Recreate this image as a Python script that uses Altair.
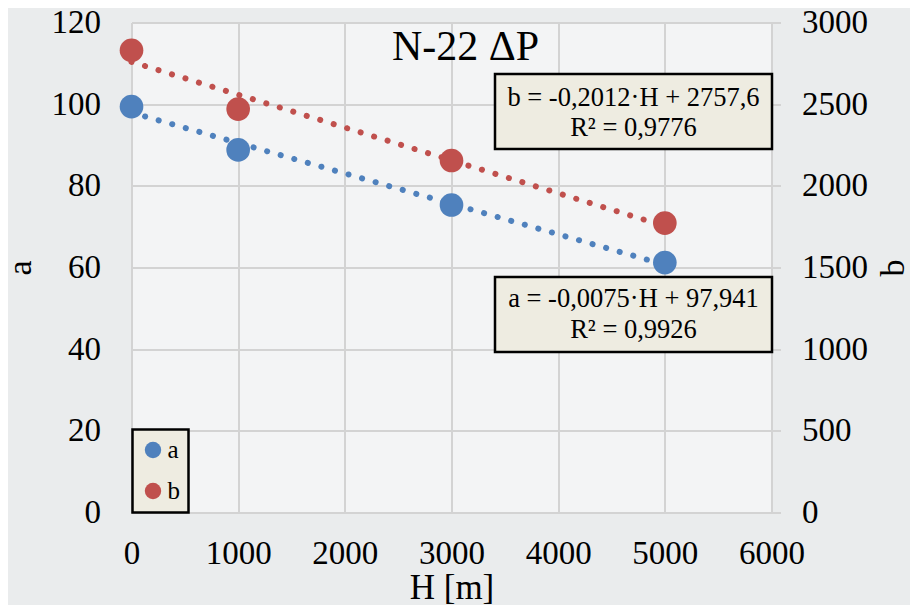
import altair as alt
import pandas as pd

# ---- data ----
H_vals = [0, 1000, 3000, 5000]
a_vals = [99.4, 88.8, 75.3, 61.2]
b_vals = [2830, 2470, 2155, 1772]
series_names = ["a", "b"]
series_colors = ["#4f81bd", "#c0504d"]
x_ticks = [0, 1000, 2000, 3000, 4000, 5000, 6000]
a_ticks = [0, 20, 40, 60, 80, 100, 120]
b_ticks = [0, 500, 1000, 1500, 2000, 2500, 3000]
title_text = ["N-22 \u0394P"]
eq_b = ["b = -0,2012\u00b7H + 2757,6", "R\u00b2 = 0,9776"]
eq_a = ["a = -0,0075\u00b7H + 97,941", "R\u00b2 = 0,9926"]

df = pd.DataFrame({"H": H_vals, "a": a_vals, "b": b_vals})

FONT = "Liberation Serif"
GRID = "#d3d3d3"
BOX_FILL = "#eeece1"

x_enc = alt.X(
    "H:Q",
    title="H [m]",
    scale=alt.Scale(domain=[0, 6000], nice=False),
    axis=alt.Axis(
        values=x_ticks, format="d", grid=True, gridColor=GRID, gridWidth=2,
        domainColor=GRID, domainWidth=2, ticks=False, tickSize=0,
        labelFont=FONT, labelFontSize=33, labelColor="black", labelPadding=25,
        titleFont=FONT, titleFontSize=35, titleFontWeight="normal",
        titleColor="black", titlePadding=0, labelFlush=False,
    ),
)


def y_a(field):
    return alt.Y(
        field,
        title="a",
        scale=alt.Scale(domain=[0, 120], nice=False),
        axis=alt.Axis(
            orient="left", values=a_ticks, format="d", grid=True, gridColor=GRID, gridWidth=2,
            domainColor=GRID, domainWidth=2, ticks=False, tickSize=0,
            labelFont=FONT, labelFontSize=33, labelColor="black", labelPadding=31,
            titleFont=FONT, titleFontSize=34, titleFontWeight="normal",
            titleColor="black", titlePadding=14, titleAngle=270,
        ),
    )


def y_b(field):
    return alt.Y(
        field,
        title="b",
        scale=alt.Scale(domain=[0, 3000], nice=False),
        axis=alt.Axis(
            orient="right", values=b_ticks, format="d", grid=False,
            domainColor=GRID, domainWidth=2, tickColor=GRID, tickWidth=2, tickSize=9,
            labelFont=FONT, labelFontSize=33, labelColor="black", labelPadding=21,
            titleFont=FONT, titleFontSize=34, titleFontWeight="normal",
            titleColor="black", titlePadding=9, titleAngle=270, titleBaseline="top",
        ),
    )


color_enc = alt.Color(
    "series:N",
    scale=alt.Scale(domain=series_names, range=series_colors),
    legend=alt.Legend(
        title=None, orient="none", legendX=1, legendY=407,
        symbolType="circle", symbolSize=270, symbolStrokeWidth=0,
        labelFont=FONT, labelFontSize=25, labelColor="black", labelOffset=2,
        padding=8, rowPadding=15, fillColor=BOX_FILL, strokeColor="black",
    ),
)

base = alt.Chart(df)

line_style = dict(strokeDash=[0.1, 14], strokeCap="round", strokeWidth=6)

a_line = base.transform_regression("H", "a", method="linear", extent=[0, 5000]).mark_line(
    color=series_colors[0], **line_style
).encode(x=x_enc, y=y_a("a:Q"))

a_pts = base.transform_calculate(series="'a'").mark_circle(size=560, opacity=1).encode(
    x=x_enc, y=y_a("a:Q"), color=color_enc
)

b_line = base.transform_regression("H", "b", method="linear", extent=[0, 5000]).mark_line(
    color=series_colors[1], **line_style
).encode(x=x_enc, y=y_b("b:Q"))

b_pts = base.transform_calculate(series="'b'").mark_circle(size=560, opacity=1).encode(
    x=x_enc, y=y_b("b:Q"), color=color_enc
)

one = alt.Chart(pd.DataFrame({"t": title_text}))

title_mark = one.mark_text(
    font=FONT, fontSize=42, color="black", align="center", baseline="alphabetic"
).encode(x=alt.value(334), y=alt.value(37.5), text="t:N")

box_b = one.mark_rect(fill=BOX_FILL, stroke="black", strokeWidth=2.5).encode(
    x=alt.value(363.5), x2=alt.value(640.5), y=alt.value(51.5), y2=alt.value(126.5)
)
box_a = one.mark_rect(fill=BOX_FILL, stroke="black", strokeWidth=2.5).encode(
    x=alt.value(363.5), x2=alt.value(640.5), y=alt.value(254.5), y2=alt.value(329.5)
)
text_b = one.mark_text(
    font=FONT, fontSize=26.5, color="black", align="center", baseline="middle",
    lineBreak="\n", lineHeight=30,
).encode(x=alt.value(502), y=alt.value(75.5), text=alt.value("\n".join(eq_b)))
text_a = one.mark_text(
    font=FONT, fontSize=26.5, color="black", align="center", baseline="middle",
    lineBreak="\n", lineHeight=31,
).encode(x=alt.value(502), y=alt.value(276.5), text=alt.value("\n".join(eq_a)))

left = alt.layer(a_line, a_pts, box_b, box_a, text_b, text_a, title_mark)
right = alt.layer(b_line, b_pts)

chart = (
    alt.layer(left, right)
    .resolve_scale(y="independent")
    .properties(
        width=640,
        height=490,
        padding={"left": 123.5, "top": 14.5, "right": 138.5, "bottom": 92},
        autosize=alt.AutoSizeParams(type="none"),
        background="#eaeced",
    )
    .configure_view(fill="#f3f4f5", stroke=None)
    .configure_legend(strokeWidth=2.5)
)

chart.save("out.html", embed_options={"renderer": "svg", "actions": False})
